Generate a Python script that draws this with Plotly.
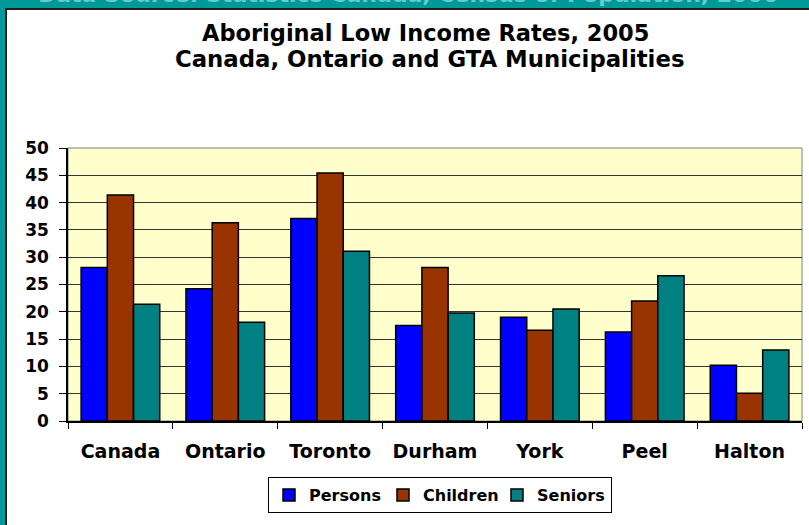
import plotly.graph_objects as go

categories = ["Canada", "Ontario", "Toronto", "Durham", "York", "Peel", "Halton"]
persons = [28.1, 24.2, 37.1, 17.5, 19.0, 16.3, 10.2]
children = [41.4, 36.3, 45.4, 28.1, 16.6, 22.0, 5.1]
seniors = [21.4, 18.1, 31.1, 19.8, 20.5, 26.6, 13.0]
series_names = ["Persons", "Children", "Seniors"]
y_ticks = [0, 5, 10, 15, 20, 25, 30, 35, 40, 45, 50]

title_line1 = "Aboriginal Low Income Rates, 2005"
title_line2 = "Canada, Ontario and GTA Municipalities"
source_text = "Data Source: Statistics Canada, Census of Population, 2006"

W, H = 809, 525
ML, MR, MT, MB = 68, 7, 148, 104
PW = W - ML - MR
PH = H - MT - MB


def px(x):
    return (x - ML) / PW


def py(y):
    return (H - MB - y) / PH


FONT = "DejaVu Sans"
colors = ["#0000FF", "#993300", "#008080"]

fig = go.Figure()
for name, vals, col in zip(series_names, [persons, children, seniors], colors):
    fig.add_trace(go.Bar(
        x=categories, y=vals, name=name,
        marker=dict(color=col, line=dict(color="black", width=1.5)),
    ))

teal = "#009999"
dark = "#1e1e1e"
shapes = [
    dict(type="rect", xref="paper", yref="paper", x0=0, x1=1, y0=0, y1=1,
         line=dict(color="#808080", width=1), layer="below"),
    dict(type="rect", xref="paper", yref="paper", x0=px(-5), x1=px(5), y0=py(H + 5), y1=py(-5),
         fillcolor=teal, line=dict(width=0), layer="above"),
    dict(type="rect", xref="paper", yref="paper", x0=px(-5), x1=px(W + 5), y0=py(8), y1=py(-5),
         fillcolor=teal, line=dict(width=0), layer="above"),
    dict(type="line", xref="paper", yref="paper", x0=px(6), x1=px(6), y0=py(8), y1=py(H + 5),
         line=dict(color=dark, width=2), layer="above"),
    dict(type="line", xref="paper", yref="paper", x0=px(5), x1=px(W + 5), y0=py(9), y1=py(9),
         line=dict(color=dark, width=2), layer="above"),
]

annotations = [
    dict(text=source_text, xref="paper", yref="paper", x=px(408), y=py(9),
         xanchor="center", yanchor="bottom", showarrow=False,
         font=dict(family=FONT, size=22, color="#66CCCC", weight="bold")),
    dict(text=title_line1, xref="paper", yref="paper", x=px(425.5), y=py(33),
         xanchor="center", yanchor="middle", showarrow=False,
         font=dict(family=FONT, size=22.5, color="black", weight="bold")),
    dict(text=title_line2, xref="paper", yref="paper", x=px(429), y=py(58.5),
         xanchor="center", yanchor="middle", showarrow=False,
         font=dict(family=FONT, size=22.8, color="black", weight="bold")),
]

fig.update_layout(
    width=W, height=H,
    margin=dict(l=ML, r=MR, t=MT, b=MB, pad=0),
    paper_bgcolor="white",
    plot_bgcolor="#FFFFCC",
    barmode="group",
    bargap=0.25,
    bargroupgap=0,
    font=dict(family=FONT, size=17, color="black", weight="bold"),
    shapes=shapes,
    annotations=annotations,
    showlegend=True,
    legend=dict(
        orientation="h", x=px(440), xanchor="center", y=py(477), yanchor="top",
        bordercolor="black", borderwidth=1, bgcolor="white",
        font=dict(family=FONT, size=16, color="black", weight="bold"),
        itemwidth=30, traceorder="normal", entrywidth=69,
    ),
    xaxis=dict(
        showline=True, linecolor="black", linewidth=1.5,
        ticks="outside", ticklen=6, tickcolor="black", tickwidth=1,
        tickson="boundaries", showgrid=False,
        tickfont=dict(family=FONT, size=19, color="black", weight="bold"),
        ticklabelstandoff=12,
    ),
    yaxis=dict(
        range=[0, 50], tickvals=y_ticks, showline=True, linecolor="black", linewidth=1.5,
        ticks="outside", ticklen=7, tickcolor="black", tickwidth=1,
        showgrid=True, gridcolor="#333333", gridwidth=1, zeroline=False,
        tickfont=dict(family=FONT, size=17, color="black", weight="bold"),
        ticklabelstandoff=7,
    ),
)

fig.write_html("out.html", config={"displayModeBar": False},
               post_script="document.body.style.margin='0';document.body.style.overflow='hidden';")
